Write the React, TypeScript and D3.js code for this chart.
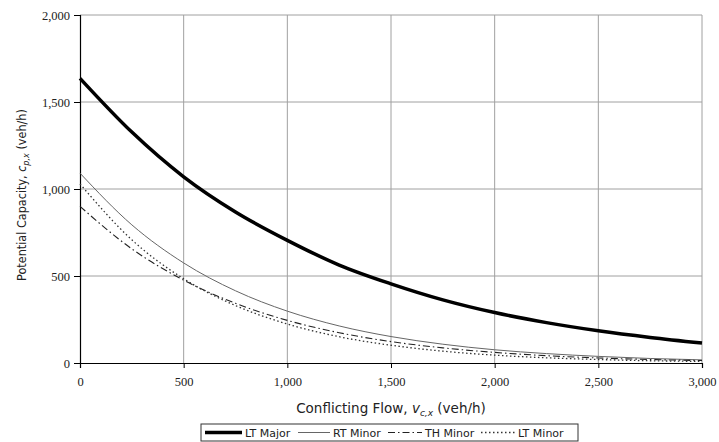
import { useEffect, useRef } from 'react';
import * as d3 from 'd3';

// conflicting flow (veh/h)
const flows = [0, 250, 500, 750, 1000, 1250, 1500, 1750, 2000, 2250, 2500, 2750, 3000];

// potential capacity (veh/h)
const ltMajor = [1636, 1327, 1070, 868, 705, 563, 455, 363, 290, 232, 185, 147, 115];
const rtMinor = [1091, 794, 575, 415, 298, 213, 152, 108, 76, 54, 38, 26, 18];
const thMinor = [900, 656, 476, 343, 245, 174, 123, 87, 61, 42, 29, 20, 14];
const ltMinor = [1029, 708, 484, 330, 224, 151, 102, 68, 45, 30, 20, 13, 9];

const xTicks = [0, 500, 1000, 1500, 2000, 2500, 3000];
const yTicks = [0, 500, 1000, 1500, 2000];

const seriesNames = ['LT Major', 'RT Minor', 'TH Minor', 'LT Minor'];

const W = 719;
const H = 442;
const margin = { top: 15, right: 17, bottom: 79, left: 80 };

export default function App() {
    const svgRef = useRef<SVGSVGElement>(null);

    useEffect(() => {
        const root = d3.select(svgRef.current);
        root.selectAll('*').remove();

        const innerW = W - margin.left - margin.right;
        const innerH = H - margin.top - margin.bottom;

        const svg = root.append('g')
            .attr('transform', `translate(${margin.left},${margin.top})`);

        const x = d3.scaleLinear().domain([0, 3000]).range([0, innerW]);
        const y = d3.scaleLinear().domain([0, 2000]).range([innerH, 0]);

        // grid
        svg.append('g')
            .selectAll('line')
            .data(xTicks.slice(1))
            .join('line')
            .attr('x1', d => x(d)).attr('x2', d => x(d))
            .attr('y1', 0).attr('y2', innerH)
            .attr('stroke', '#a0a0a0').attr('stroke-width', 1);
        svg.append('g')
            .selectAll('line')
            .data(yTicks.slice(1))
            .join('line')
            .attr('x1', 0).attr('x2', innerW)
            .attr('y1', d => y(d)).attr('y2', d => y(d))
            .attr('stroke', '#a0a0a0').attr('stroke-width', 1);

        // axes
        const xAxis = svg.append('g')
            .attr('transform', `translate(0,${innerH})`)
            .call(d3.axisBottom(x).tickValues(xTicks).tickSize(5).tickPadding(9).tickFormat(d3.format(',')));
        const yAxis = svg.append('g')
            .call(d3.axisLeft(y).tickValues(yTicks).tickSize(6).tickPadding(4).tickFormat(d3.format(',')));
        [xAxis, yAxis].forEach(a => {
            a.select('.domain').attr('stroke', '#000').attr('stroke-width', 1.2);
            a.selectAll('.tick line').attr('stroke', '#000');
            a.selectAll('.tick text')
                .attr('fill', '#222')
                .style('font-family', '"Liberation Serif", "Times New Roman", serif')
                .style('font-size', '12.5px');
        });

        // lines
        const styles = [
            { color: '#000', width: 3.5, dash: null },
            { color: '#666', width: 1, dash: null },
            { color: '#222', width: 1.1, dash: '7,3,1.5,3' },
            { color: '#333', width: 1.3, dash: '1.5,2.5' },
        ];
        const allSeries = [ltMajor, rtMinor, thMinor, ltMinor];
        const line = d3.line<number>()
            .x((_, i) => x(flows[i]))
            .y(d => y(d))
            .curve(d3.curveMonotoneX);

        allSeries.forEach((s, i) => {
            const st = styles[i];
            svg.append('path')
                .datum(s)
                .attr('fill', 'none')
                .attr('stroke', st.color)
                .attr('stroke-width', st.width)
                .attr('stroke-dasharray', st.dash)
                .attr('d', line);
        });

        // axis titles
        const xt = root.append('text')
            .attr('x', margin.left + innerW / 2)
            .attr('y', 413)
            .attr('text-anchor', 'middle')
            .style('font-family', '"DejaVu Sans", sans-serif')
            .style('font-size', '13.5px')
            .attr('fill', '#222');
        xt.append('tspan').text('Conflicting Flow, ');
        xt.append('tspan').attr('font-style', 'italic').text('v');
        xt.append('tspan').attr('font-style', 'italic').attr('font-size', '9px').attr('dy', 3).text('c,x');
        xt.append('tspan').attr('dy', -3).text(' (veh/h)');

        const yt = root.append('text')
            .attr('transform', `translate(26,195) rotate(-90)`)
            .attr('text-anchor', 'middle')
            .style('font-family', '"DejaVu Sans Condensed", "DejaVu Sans", sans-serif')
            .style('font-size', '12.5px')
            .attr('fill', '#222');
        yt.append('tspan').text('Potential Capacity, ');
        yt.append('tspan').attr('font-style', 'italic').text('c');
        yt.append('tspan').attr('font-style', 'italic').attr('font-size', '9px').attr('dy', 3).text('p,x');
        yt.append('tspan').attr('dy', -3).text(' (veh/h)');

        // legend
        const lg = root.append('g').attr('transform', 'translate(201,424)');
        lg.append('rect')
            .attr('width', 377).attr('height', 17)
            .attr('fill', '#fff').attr('stroke', '#333').attr('stroke-width', 1);
        const itemX = [4, 97, 187, 280];
        const lineW = [37, 32, 34, 34];
        seriesNames.forEach((name, i) => {
            const st = styles[i];
            const g = lg.append('g').attr('transform', `translate(${itemX[i]},0)`);
            g.append('line')
                .attr('x1', 0).attr('x2', lineW[i])
                .attr('y1', 8.5).attr('y2', 8.5)
                .attr('stroke', st.color)
                .attr('stroke-width', st.width)
                .attr('stroke-dasharray', st.dash);
            g.append('text')
                .attr('x', lineW[i] + 3)
                .attr('y', 12.5)
                .style('font-family', '"DejaVu Sans", sans-serif')
                .style('font-size', '11px')
                .attr('fill', '#222')
                .text(name);
        });
    }, []);

    return (
        <svg ref={svgRef} width={W} height={H}
            style={{ position: 'absolute', top: 0, left: 0, background: '#fff' }} />
    );
}
